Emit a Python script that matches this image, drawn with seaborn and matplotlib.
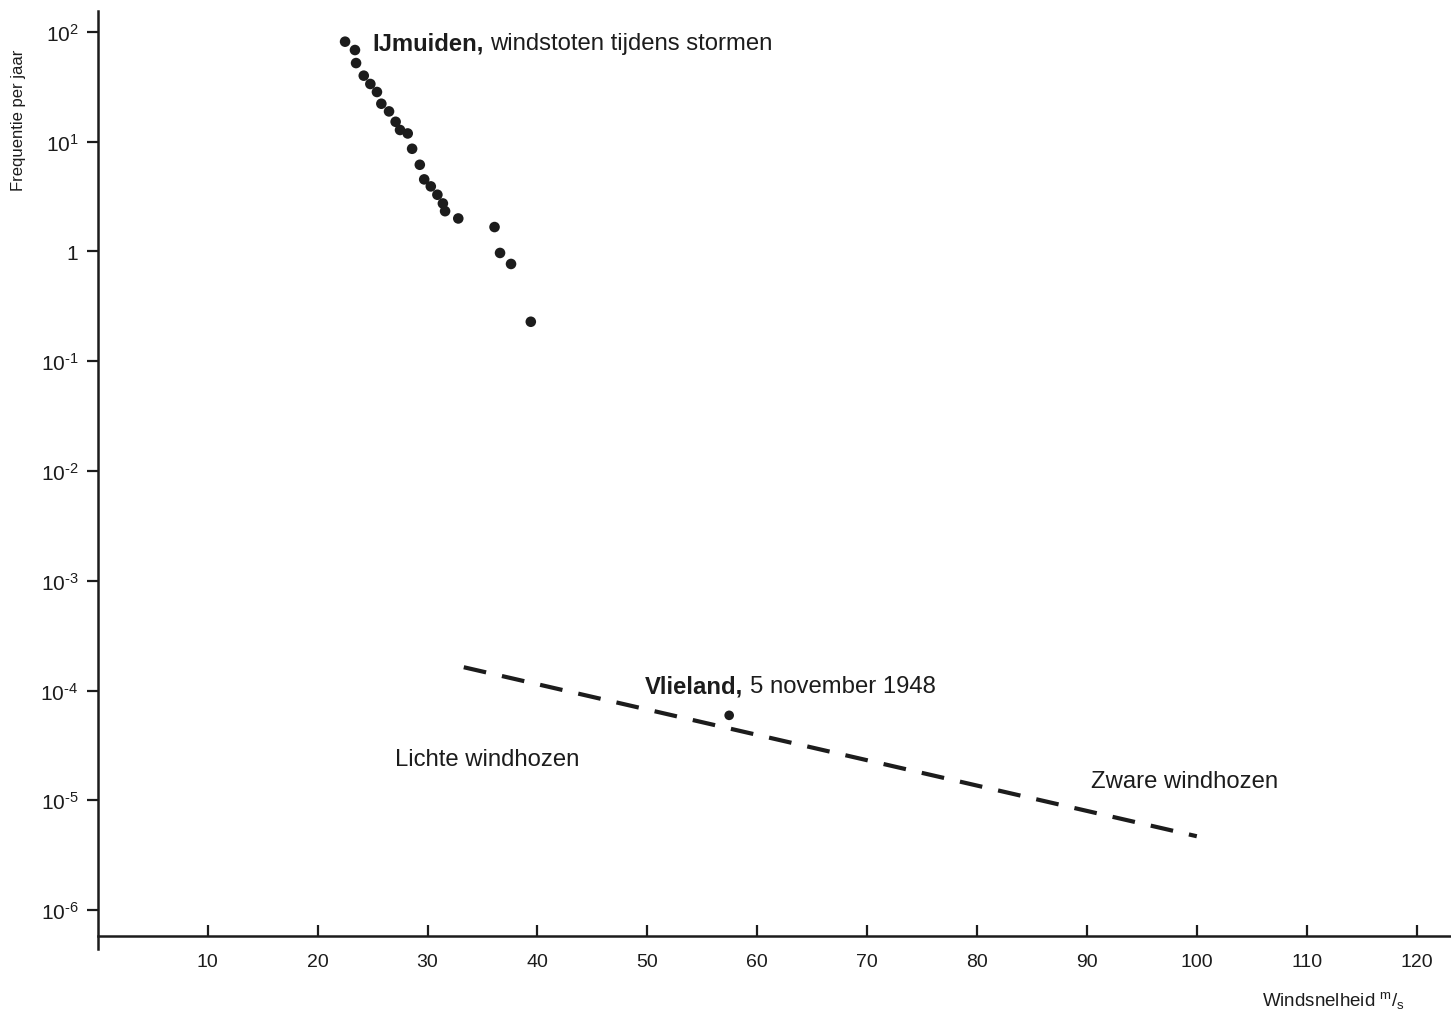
import numpy as np
import matplotlib
matplotlib.use("Agg")
import matplotlib.pyplot as plt
import seaborn as sns
from matplotlib.ticker import NullLocator

# IJmuiden: wind gusts during storms (m/s, frequency per year)
ijm_speed = [22.5, 23.4, 23.5, 24.2, 24.8, 25.4, 25.8, 26.5, 27.1, 27.5, 28.2, 28.6,
             29.3, 29.7, 30.3, 30.9, 31.4, 31.6, 32.8, 36.1, 36.6, 37.6, 39.4]
ijm_freq = [81.6, 68.5, 52.1, 40.0, 33.6, 28.4, 22.2, 18.9, 15.2, 12.8, 11.9, 8.63,
            6.17, 4.54, 3.92, 3.29, 2.74, 2.33, 2.00, 1.67, 0.97, 0.77, 0.229]

# Vlieland, 5 november 1948
vlie_speed = [57.45]
vlie_freq = [5.94e-5]

# tornado (windhozen) frequency line
hoos_speed = [33.3, 100.0]
hoos_freq = [1.63e-4, 4.7e-6]

x_ticks = list(range(10, 121, 10))
y_ticks = [1e-6, 1e-5, 1e-4, 1e-3, 1e-2, 1e-1, 1, 1e1, 1e2]
y_labels = [r"$10^{\text{-6}}$", r"$10^{\text{-5}}$", r"$10^{\text{-4}}$", r"$10^{\text{-3}}$",
            r"$10^{\text{-2}}$", r"$10^{\text{-1}}$", "1", r"$10^{1}$", r"$10^{2}$"]

sns.set_style("ticks")
plt.rcParams["font.family"] = ["Liberation Sans", "DejaVu Sans"]
plt.rcParams["mathtext.fontset"] = "custom"
plt.rcParams["mathtext.rm"] = "Liberation Sans"
plt.rcParams["mathtext.it"] = "Liberation Sans:italic"
plt.rcParams["mathtext.bf"] = "Liberation Sans:bold"

ink = "#1c1c1c"
W, H = 1451, 1012
fig = plt.figure(figsize=(W / 100, H / 100), dpi=100)
x0, ytop, ybot = 97.8, 12, 950
ax = fig.add_axes([x0 / W, (H - ybot) / H, 1 - x0 / W, (ybot - ytop) / H])
ax.set_yscale("log")

sns.scatterplot(x=ijm_speed, y=ijm_freq, ax=ax, color=ink, s=58, edgecolor="none")
sns.scatterplot(x=vlie_speed, y=vlie_freq, ax=ax, color=ink, s=48, edgecolor="none")
sns.lineplot(x=hoos_speed, y=hoos_freq, ax=ax, color=ink, lw=3.0,
             linestyle=(0, (5.5, 3.9)))

dec = 109.8
ax.set_xlim(0, (W - x0) / 10.99)
ax.set_ylim(10 ** (-6 - (ybot - 911) / dec), 10 ** (2 + (33 - ytop) / dec))
ax.spines["bottom"].set_position(("data", 10 ** (-6 - (937 - 911) / dec)))
sns.despine(ax=ax, top=True, right=True)
for s in ["left", "bottom"]:
    ax.spines[s].set_linewidth(1.8)
    ax.spines[s].set_color(ink)

ax.set_xticks(x_ticks)
ax.set_xticklabels([str(v) for v in x_ticks])
ax.set_yticks(y_ticks)
ax.set_yticklabels(y_labels)
ax.yaxis.set_minor_locator(NullLocator())
ax.tick_params(axis="x", direction="in", length=8, width=1.6, pad=12,
               labelsize=14, colors=ink)
ax.tick_params(axis="y", direction="out", length=8, width=1.6, pad=6,
               labelsize=15, colors=ink)

fs = 17.2
t1 = ax.text(24.95, 79.4, "IJmuiden,", fontsize=fs, fontweight="bold", color=ink, va="center")
ax.annotate("windstoten tijdens stormen", xy=(1, 0.5), xycoords=t1, xytext=(5, 0),
            textcoords="offset points", fontsize=fs, color=ink, va="center")
t2 = ax.text(49.8, 1.09e-4, "Vlieland,", fontsize=fs, fontweight="bold", color=ink, va="center")
ax.annotate("5 november 1948", xy=(1, 0.5), xycoords=t2, xytext=(5, 0),
            textcoords="offset points", fontsize=fs, color=ink, va="center")
ax.text(27.05, 2.36e-5, "Lichte windhozen", fontsize=fs, color=ink, va="center")
ax.text(90.4, 1.49e-5, "Zware windhozen", fontsize=fs, color=ink, va="center")

fig.text(19 / W, 1 - 120 / H, "Frequentie per jaar", rotation=90, fontsize=12,
         color=ink, ha="center", va="center")
fig.text(1262 / W, 1 - 1001 / H, r"Windsnelheid $^{\mathrm{m}}/_{\mathrm{s}}$",
         fontsize=13.5, color=ink, ha="left", va="center")

fig.savefig("out.png", dpi=100)
